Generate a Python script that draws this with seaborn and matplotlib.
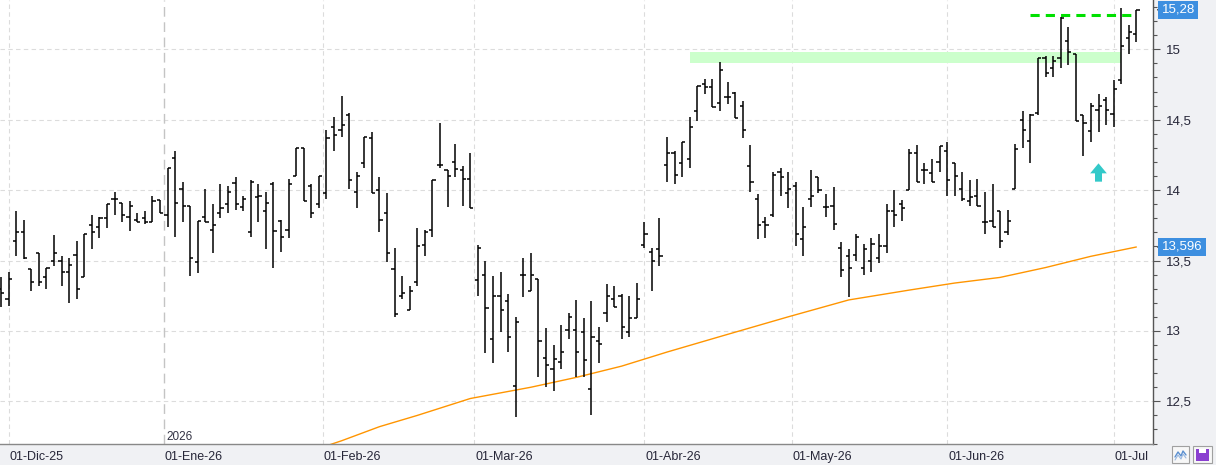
import numpy as np
import pandas as pd
import matplotlib
matplotlib.use("Agg")
import matplotlib.pyplot as plt
import seaborn as sns
from matplotlib.patches import Rectangle
from matplotlib.ticker import MultipleLocator, FuncFormatter, FixedLocator
import matplotlib.transforms as mtransforms

# ---------------- data ----------------
opens = [13.30, 13.23, 13.64, 13.70, 13.44, 13.55, 13.38, 13.50, 13.50, 13.42,
         13.54, 13.38, 13.75, 13.74, 13.80, 13.94, 13.91, 13.81, 13.79, 13.80,
         13.77, 13.93, 13.82, 14.23, 14.01, 13.89, 13.49, 13.81, 13.72, 13.84,
         13.90, 14.05, 13.88, 13.70, 13.95, 13.85, 14.04, 13.78, 13.72, 14.10,
         14.30, 14.03, 13.90, 13.98, 14.45, 14.43, 14.53, 13.99, 14.19, 14.37,
         14.00, 13.84, 13.44, 13.25, 13.15, 13.35, 13.61, 13.72, 14.18, 14.14,
         14.20, 14.14, 14.08, 13.36, 13.40, 12.94, 13.25, 13.21, 12.61, 13.40,
         13.28, 13.37, 12.81, 12.73, 12.78, 13.01, 13.01, 12.99, 12.59, 12.93,
         13.13, 13.23, 13.25, 12.99, 13.09, 13.61, 13.56, 13.58, 14.18, 14.26,
         14.19, 14.22, 14.56, 14.75, 14.73, 14.62, 14.66, 14.69, 14.60, 14.17,
         13.94, 13.77, 13.82, 14.13, 13.98, 14.03, 13.65, 13.94, 14.09, 13.88,
         13.89, 13.59, 13.53, 13.54, 13.45, 13.50, 13.52, 13.60, 13.85, 13.90,
         14.00, 14.26, 14.14, 14.12, 14.20, 14.28, 14.19, 14.01, 13.92, 13.96,
         13.77, 13.78, 13.85, 13.70, 14.01, 14.50, 14.35, 14.55, 14.94, 14.87,
         14.94, 15.06, 14.97, 14.53, 14.42, 14.57, 14.64, 14.54, 14.78, 15.08,
         15.11]
highs = [13.38, 13.42, 13.85, 13.79, 13.44, 13.55, 13.45, 13.68, 13.53, 13.52,
         13.64, 13.69, 13.82, 13.81, 13.90, 13.99, 13.91, 13.92, 13.84, 13.85,
         13.96, 13.93, 14.16, 14.28, 14.06, 13.89, 13.78, 14.01, 13.90, 14.04,
         14.03, 14.09, 13.96, 14.07, 14.04, 13.99, 14.06, 13.79, 14.08, 14.30,
         14.30, 14.04, 14.10, 14.43, 14.52, 14.67, 14.55, 14.13, 14.38, 14.41,
         14.09, 13.98, 13.59, 13.39, 13.32, 13.73, 13.72, 14.07, 14.48, 14.14,
         14.33, 14.17, 14.26, 13.61, 13.50, 13.39, 13.42, 13.26, 13.10, 13.52,
         13.55, 13.37, 13.02, 12.90, 13.04, 13.13, 13.22, 13.09, 13.21, 13.03,
         13.33, 13.32, 13.26, 13.25, 13.34, 13.77, 13.59, 13.80, 14.38, 14.28,
         14.34, 14.52, 14.74, 14.79, 14.79, 14.91, 14.77, 14.70, 14.63, 14.32,
         13.97, 13.81, 14.13, 14.16, 14.13, 14.06, 13.88, 14.14, 14.09, 13.97,
         14.02, 13.63, 13.58, 13.69, 13.62, 13.66, 13.69, 13.90, 14.00, 13.93,
         14.29, 14.32, 14.19, 14.22, 14.31, 14.34, 14.19, 14.13, 14.07, 14.08,
         13.99, 14.04, 13.85, 13.86, 14.33, 14.56, 14.54, 14.94, 14.95, 14.95,
         15.23, 15.16, 14.97, 14.53, 14.62, 14.68, 14.66, 14.78, 15.29, 15.17,
         15.28]
lows = [13.17, 13.18, 13.53, 13.51, 13.28, 13.32, 13.30, 13.46, 13.32, 13.20,
        13.23, 13.38, 13.58, 13.66, 13.73, 13.82, 13.77, 13.71, 13.77, 13.76,
        13.77, 13.84, 13.74, 13.67, 13.77, 13.39, 13.41, 13.77, 13.55, 13.80,
        13.84, 13.86, 13.85, 13.67, 13.77, 13.58, 13.45, 13.56, 13.66, 14.10,
        13.92, 13.80, 13.87, 13.94, 14.28, 14.38, 14.01, 13.87, 14.16, 13.98,
        13.70, 13.49, 13.10, 13.23, 13.15, 13.32, 13.53, 13.67, 14.16, 13.88,
        14.09, 13.89, 13.87, 13.25, 12.84, 12.77, 12.99, 12.85, 12.39, 13.24,
        13.28, 12.67, 12.60, 12.57, 12.73, 12.94, 12.67, 12.67, 12.40, 12.77,
        13.06, 13.17, 12.94, 12.96, 13.09, 13.59, 13.28, 13.46, 14.06, 14.04,
        14.09, 14.16, 14.49, 14.68, 14.59, 14.56, 14.61, 14.51, 14.37, 13.99,
        13.65, 13.66, 13.81, 13.96, 13.87, 13.60, 13.53, 13.88, 13.98, 13.81,
        13.72, 13.38, 13.24, 13.50, 13.40, 13.42, 13.48, 13.55, 13.74, 13.78,
        14.00, 14.06, 14.04, 14.06, 14.13, 13.96, 13.96, 13.92, 13.89, 13.89,
        13.69, 13.74, 13.59, 13.68, 14.01, 14.30, 14.19, 14.53, 14.80, 14.80,
        14.87, 14.89, 14.49, 14.24, 14.34, 14.41, 14.46, 14.45, 14.75, 14.97,
        15.05]
closes = [13.27, 13.37, 13.70, 13.52, 13.35, 13.35, 13.45, 13.55, 13.42, 13.47,
          13.30, 13.69, 13.70, 13.80, 13.90, 13.94, 13.82, 13.89, 13.77, 13.77,
          13.92, 13.84, 14.16, 13.91, 13.89, 13.52, 13.78, 13.77, 13.75, 13.87,
          13.99, 13.90, 13.94, 14.06, 13.96, 13.91, 13.71, 13.67, 14.04, 14.30,
          13.92, 13.84, 14.10, 14.37, 14.39, 14.46, 14.07, 14.10, 14.38, 13.98,
          13.79, 13.55, 13.12, 13.27, 13.28, 13.60, 13.70, 14.07, 14.18, 14.10,
          14.15, 14.08, 13.87, 13.59, 13.16, 13.25, 13.15, 12.96, 13.06, 13.40,
          13.40, 12.93, 12.76, 12.80, 12.85, 13.10, 12.85, 12.79, 12.96, 12.91,
          13.25, 13.17, 13.03, 13.09, 13.23, 13.69, 13.50, 13.53, 14.26, 14.11,
          14.34, 14.45, 14.74, 14.73, 14.59, 14.85, 14.66, 14.51, 14.43, 14.06,
          13.75, 13.75, 14.11, 14.09, 14.01, 13.69, 13.74, 13.96, 14.00, 13.88,
          13.76, 13.43, 13.45, 13.67, 13.58, 13.62, 13.60, 13.85, 13.82, 13.87,
          14.26, 14.06, 14.14, 14.06, 14.31, 14.07, 14.10, 13.94, 13.95, 13.89,
          13.77, 13.74, 13.64, 13.78, 14.29, 14.43, 14.53, 14.94, 14.83, 14.92,
          15.22, 14.98, 14.49, 14.48, 14.60, 14.60, 14.57, 14.72, 15.02, 15.12,
          15.28]

holidays = ["2025-12-25", "2025-12-26", "2026-01-01", "2026-04-03",
            "2026-04-06", "2026-05-01"]
dates = pd.bdate_range("2025-11-28", "2026-07-06", freq="C", holidays=holidays)

month_starts = ["2025-12-01", "2026-01-01", "2026-02-01", "2026-03-01",
                "2026-04-01", "2026-05-01", "2026-06-01", "2026-07-01"]
month_labels = ["01-Dic-25", "01-Ene-26", "01-Feb-26", "01-Mar-26",
                "01-Abr-26", "01-May-26", "01-Jun-26", "01-Jul"]
year_mark = "2026-01-01"
year_label = "2026"

# moving average (orange) sampled values
ma_dates = ["2026-01-28", "2026-02-04", "2026-02-11", "2026-02-18", "2026-02-27",
            "2026-03-11", "2026-03-19", "2026-03-27", "2026-04-08", "2026-04-17",
            "2026-04-30", "2026-05-13", "2026-05-25", "2026-06-02", "2026-06-10",
            "2026-06-18", "2026-06-26", "2026-07-06"]
ma_values = [12.13, 12.22, 12.32, 12.40, 12.52, 12.60, 12.67, 12.75, 12.85, 12.96,
             13.10, 13.22, 13.29, 13.34, 13.38, 13.45, 13.53, 13.596]

# resistance zone, target line, signal arrow
zone_low, zone_high = 14.90, 14.98
zone_start, zone_end = "2026-04-13", "2026-07-02"
target_level = 15.24
target_start, target_end = "2026-06-16", "2026-07-06"
signal_date = "2026-06-29"
signal_low, signal_high = 14.06, 14.19

last_price = 15.28
ma_last = 13.596

# ---------------- helpers ----------------
def pos_of(d):
    d = pd.Timestamp(d)
    i = dates.searchsorted(d)
    if i < len(dates) and dates[i] == d:
        return float(i)
    return i - 0.5

df = pd.DataFrame({"pos": np.arange(len(dates)), "open": opens, "high": highs,
                   "low": lows, "close": closes})
ma_df = pd.DataFrame({"pos": [pos_of(d) for d in ma_dates], "ma": ma_values})

# ---------------- figure ----------------
sns.set_style("white")
plt.rcParams["font.family"] = ["Liberation Sans", "DejaVu Sans"]

W, H = 1216, 465
fig = plt.figure(figsize=(W / 100, H / 100), dpi=100, facecolor="#f0f1f4")
ax = fig.add_axes([0, 21 / H, 1153 / W, 444 / H])
ax.set_facecolor("white")

ax.set_xlim(-0.13, 152.2)
ax.set_ylim(12.197, 15.350)

grid_kw = dict(color="#dcdcdc", lw=0.8, ls=(0, (4, 3)), zorder=0)
for v in np.arange(12.5, 15.01, 0.5):
    ax.axhline(v, **grid_kw)
tick_pos = [pos_of(d) for d in month_starts]
yp = pos_of(year_mark)
for p in tick_pos:
    if p != yp:
        ax.axvline(p, **grid_kw)
ax.axvline(yp, color="#c4c4c4", lw=1.0, ls=(0, (7, 4)), zorder=0)
ax.text(yp + 0.35, 12.205, year_label, fontsize=8.5, color="#333344",
        ha="left", va="bottom")

# resistance zone
z0, z1 = pos_of(zone_start), pos_of(zone_end)
ax.add_patch(Rectangle((z0, zone_low), z1 - z0, zone_high - zone_low,
                       facecolor="#ccffcc", edgecolor="none", zorder=1))

# moving average
sns.lineplot(data=ma_df, x="pos", y="ma", ax=ax, color="#ff9500", lw=1.0,
             zorder=2, legend=False)

# OHLC bars
tk = 0.42
ax.vlines(df["pos"], df["low"], df["high"], color="black", lw=1.1, zorder=3)
ax.hlines(df["open"], df["pos"] - tk, df["pos"], color="black", lw=1.1, zorder=3)
ax.hlines(df["close"], df["pos"], df["pos"] + tk, color="black", lw=1.1, zorder=3)

# target dashed line
ax.plot([pos_of(target_start), pos_of(target_end)], [target_level, target_level],
        color="#00e000", lw=2.2, ls=(0, (3, 2)), zorder=4)

# signal arrow
sp = pos_of(signal_date)
ax.annotate("", xy=(sp, signal_high), xytext=(sp, signal_low),
            arrowprops=dict(arrowstyle="simple,head_width=1.0,head_length=0.6,tail_width=0.42",
                            color="#33c9c9", lw=0, shrinkA=0, shrinkB=0,
                            mutation_scale=12), zorder=5)

# axes styling
for s in ["top", "left"]:
    ax.spines[s].set_visible(False)
ax.spines["right"].set_color("#555555")
ax.spines["right"].set_linewidth(1.0)
ax.spines["bottom"].set_color("#888888")
ax.spines["bottom"].set_linewidth(1.0)

ax.yaxis.tick_right()
ax.yaxis.set_major_locator(MultipleLocator(0.5))
ax.yaxis.set_minor_locator(MultipleLocator(0.1))
ax.yaxis.set_major_formatter(FuncFormatter(lambda v, p: f"{v:g}".replace(".", ",")))
ax.tick_params(axis="y", which="major", length=5, width=0.8, colors="#555555",
               labelcolor="#262638", labelsize=9.5, pad=4, direction="out")
ax.tick_params(axis="y", which="minor", length=3, width=0.8, colors="#555555",
               direction="out")

ax.xaxis.set_major_locator(FixedLocator(tick_pos))
ax.set_xticklabels(month_labels)
ax.tick_params(axis="x", which="major", length=3, width=0.8, colors="#888888",
               labelcolor="#262638", labelsize=9, pad=2, direction="out")
offset = mtransforms.ScaledTranslation(1 / 100, 0, fig.dpi_scale_trans)
for lab in ax.get_xticklabels():
    lab.set_horizontalalignment("left")
    lab.set_transform(lab.get_transform() + offset)
ax.set_xlabel("")
ax.set_ylabel("")

# price labels on right axis
trans = mtransforms.blended_transform_factory(ax.transAxes, ax.transData)
for val, txt in [(last_price, f"{last_price:.2f}".replace(".", ",")),
                 (ma_last, f"{ma_last:.3f}".replace(".", ","))]:
    ax.text(1.0075, val, txt, transform=trans, ha="left", va="center",
            fontsize=9.5, color="white", clip_on=False, zorder=10,
            bbox=dict(boxstyle="square,pad=0.25", facecolor="#3d8fe0",
                      edgecolor="none"))
    ax.annotate("", xy=(1.0015, val), xytext=(1.0065, val), xycoords=trans,
                textcoords=trans,
                arrowprops=dict(arrowstyle="->,head_length=0.25,head_width=0.2",
                                color="#444444", lw=0.7), annotation_clip=False)

# small buttons bottom right
def fig_rect(x0, y0, w, h, **kw):
    fig.patches.append(Rectangle((x0 / W, 1 - (y0 + h) / H), w / W, h / H,
                                 transform=fig.transFigure, figure=fig, **kw))

fig_rect(1172, 446, 17, 17, facecolor="#f7f7f7", edgecolor="#a0a0a0", lw=0.8)
fig_rect(1193, 446, 19, 17, facecolor="#f7f7f7", edgecolor="#a0a0a0", lw=0.8)
zx = np.array([1175, 1178, 1181, 1183, 1186]) / W
zy = 1 - np.array([457, 452, 456, 451, 455]) / H
fig.lines.append(plt.Line2D(zx, zy, transform=fig.transFigure, color="#5a8fd0", lw=1.0))
fig.lines.append(plt.Line2D(zx, zy - 3 / H, transform=fig.transFigure, color="#9ab8e0", lw=0.8))
fig_rect(1196, 449, 13, 12, facecolor="#8a3fd0", edgecolor="none")
fig_rect(1199, 449, 7, 4, facecolor="white", edgecolor="none")

fig.savefig("out.png", dpi=100, facecolor=fig.get_facecolor())
